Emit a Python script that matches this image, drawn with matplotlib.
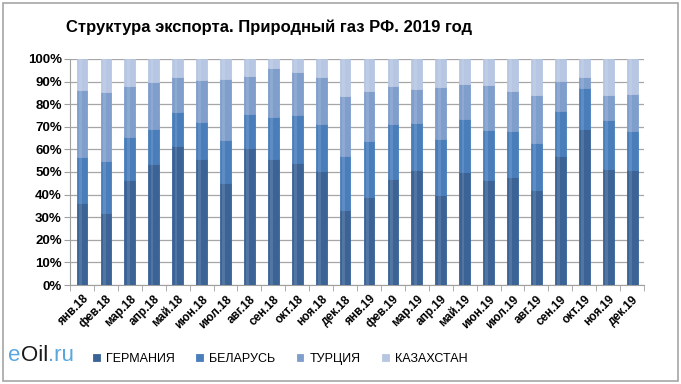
import numpy as np
from matplotlib import pyplot as plt
from matplotlib.patches import Rectangle

months = ['янв.18', 'фев.18', 'мар.18', 'апр.18', 'май.18', 'июн.18',
          'июл.18', 'авг.18', 'сен.18', 'окт.18', 'ноя.18', 'дек.18',
          'янв.19', 'фев.19', 'мар.19', 'апр.19', 'май.19', 'июн.19',
          'июл.19', 'авг.19', 'сен.19', 'окт.19', 'ноя.19', 'дек.19']

# shares, %
germany = [36.2, 32.0, 46.3, 53.4, 61.5, 55.9, 45.0, 60.6, 55.9, 54.1, 50.3, 33.2,
           39.1, 47.0, 51.0, 39.9, 49.8, 46.4, 48.0, 42.1, 56.9, 69.0, 51.3, 51.0]
belarus = [20.4, 22.7, 19.1, 15.6, 15.1, 16.1, 19.1, 15.1, 18.5, 21.2, 20.9, 24.0,
           24.7, 24.2, 20.6, 24.9, 23.8, 22.0, 20.1, 20.7, 20.2, 18.1, 21.8, 17.2]
turkey = [29.6, 30.7, 22.6, 20.7, 15.3, 18.7, 27.1, 16.7, 21.8, 18.8, 20.7, 26.6,
          22.2, 16.7, 15.1, 22.9, 15.3, 20.1, 17.6, 21.4, 13.0, 4.8, 10.8, 16.3]
kazakhstan = [100 - g - b - t for g, b, t in zip(germany, belarus, turkey)]

series = ['ГЕРМАНИЯ', 'БЕЛАРУСЬ', 'ТУРЦИЯ', 'КАЗАХСТАН']
colors = ['#3b6396', '#4a7ebb', '#7f9ecc', '#b7c6e2']

font = ['Liberation Sans', 'DejaVu Sans']

fig = plt.figure(figsize=(6.81, 3.84), dpi=100)
fig.patches.append(Rectangle((0.005, 0.008), 0.99, 0.984, transform=fig.transFigure,
                             fill=False, edgecolor='#a6a6a6', lw=1.2))
ax = fig.add_axes([0.1028, 0.2578, 0.843, 0.5886])

x = np.arange(len(months))
bottom = np.zeros(len(months))
for name, vals, c in zip(series, [germany, belarus, turkey, kazakhstan], colors):
    vals = np.array(vals)
    ax.bar(x, vals, 0.45, bottom=bottom, color=c, edgecolor=c, lw=0.6,
           label=name, zorder=3)
    # light highlight to hint at the cylinder shading
    ax.bar(x - 0.07, vals, 0.12, bottom=bottom, color='white', alpha=0.12,
           lw=0, zorder=4)
    bottom += vals

ax.set_xlim(-0.5, len(months) - 0.5)
ax.set_ylim(0, 100)
ax.set_yticks(np.arange(0, 101, 10))
ax.set_yticklabels([f'{v}%' for v in range(0, 101, 10)],
                   fontsize=9.5, fontweight='bold', family=font)
ax.set_xticks(x)
ax.set_xticklabels(months, rotation=45, ha='right', rotation_mode='anchor',
                   fontsize=8.5, fontweight='bold', family=font)
ax.tick_params(axis='x', length=0, pad=6)
ax.set_xticks(np.arange(-0.5, len(months), 1), minor=True)
ax.tick_params(axis='x', which='minor', length=4, color='#a0a0a0')
ax.tick_params(axis='y', length=4, color='#a0a0a0', pad=2)
ax.grid(axis='y', color='#a6a6a6', lw=0.9, zorder=0)
for s in ['top', 'right']:
    ax.spines[s].set_visible(False)
ax.spines['left'].set_color('#a0a0a0')
ax.spines['bottom'].set_color('#a0a0a0')

fig.text(0.395, 0.93, 'Структура экспорта. Природный газ РФ. 2019 год',
         ha='center', va='center', fontsize=12, fontweight='bold', family=font)

fig.legend(loc='center left', bbox_to_anchor=(0.12, 0.065), ncol=4, frameon=False,
           handlelength=0.55, handleheight=0.55, handletextpad=0.5, columnspacing=1.7,
           prop={'family': font, 'size': 9})

logo = fig.text(0.012, 0.075, 'e', color='#5aa7df', fontsize=16, va='center', family=font)
logo = plt.annotate('Oil', xy=(1, 0), xycoords=logo, va='bottom', color='#1a1a1a',
                    fontsize=16, family=font)
plt.annotate('.ru', xy=(1, 0), xycoords=logo, va='bottom', color='#5aa7df',
             fontsize=16, family=font)

plt.savefig('out.png', dpi=100)
